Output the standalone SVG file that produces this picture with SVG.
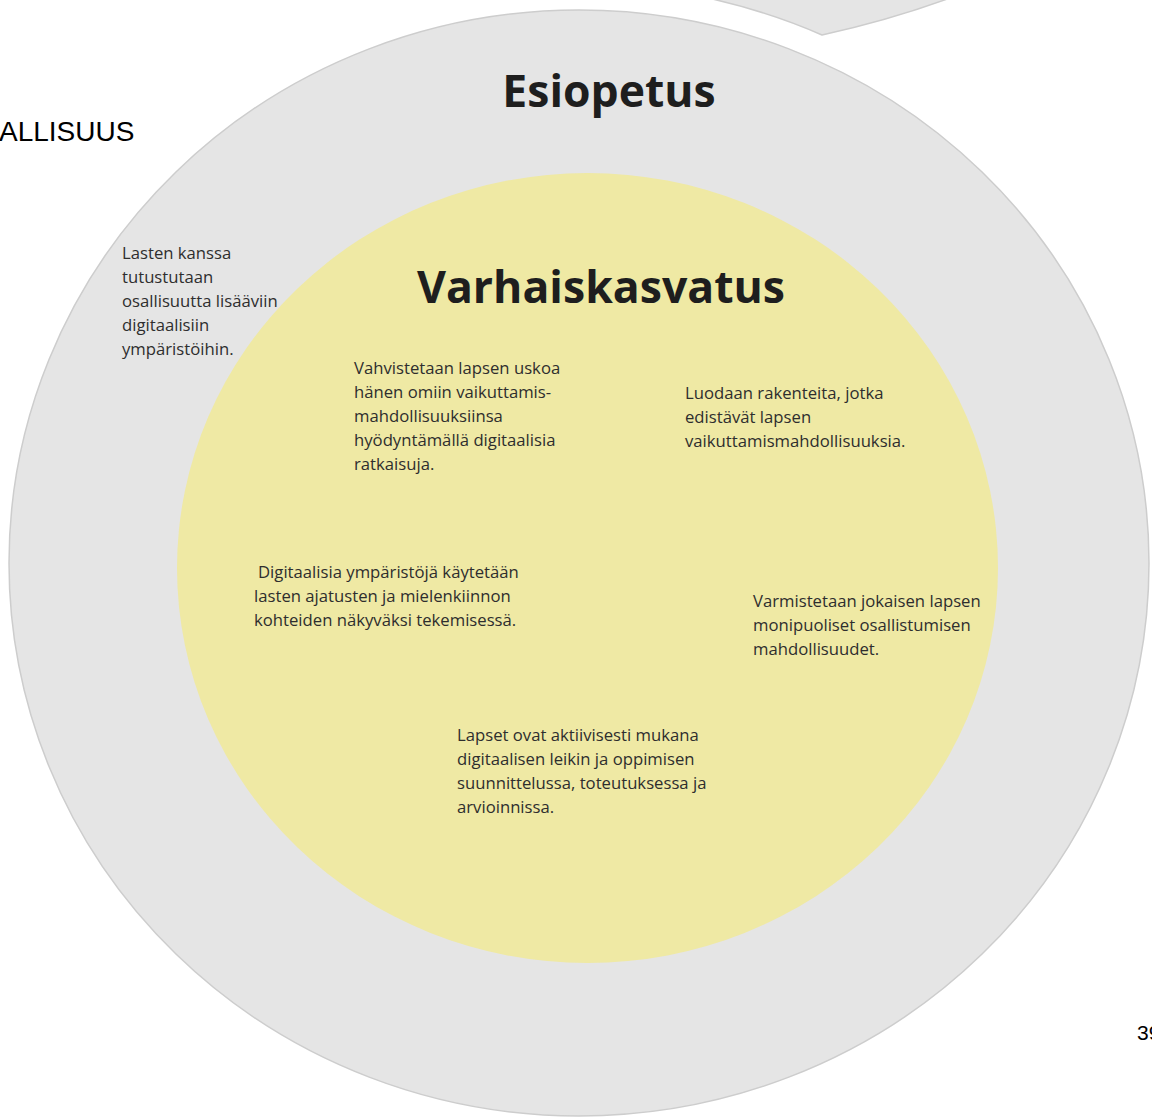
<svg xmlns="http://www.w3.org/2000/svg" width="1152" height="1117" viewBox="0 0 1152 1117">
<style>
.bg{fill:#ffffff}
.ring{fill:#e5e5e5;stroke:#cdcdcd;stroke-width:1.5}
.core{fill:#efe9a4}
.title{font-family:"Open Sans","DejaVu Sans",sans-serif;font-weight:bold;fill:#1e1e1e}
.body{font-family:"Open Sans","DejaVu Sans",sans-serif;font-size:16.7px;fill:#2e2e2e}
.page{font-family:"Liberation Sans",Arial,sans-serif;fill:#000000}
</style>
<rect class="bg" x="0" y="0" width="1152" height="1117"/>
<g id="top-shape">
<path class="ring" d="M 708 -2 Q 770 12 822 35 Q 890 20 950 -2 Z"/>
</g>
<g id="esiopetus">
<ellipse class="ring" cx="579" cy="563" rx="570" ry="553"/>
<text class="title" x="609" y="107" font-size="44.5" text-anchor="middle">Esiopetus</text>
<text class="body" x="122" y="259">Lasten kanssa</text>
<text class="body" x="122" y="283">tutustutaan</text>
<text class="body" x="122" y="307">osallisuutta lisääviin</text>
<text class="body" x="122" y="331">digitaalisiin</text>
<text class="body" x="122" y="355">ympäristöihin.</text>
</g>
<g id="varhaiskasvatus">
<ellipse class="core" cx="587.5" cy="568" rx="410.5" ry="395"/>
<text class="title" x="601" y="303" font-size="44.6" text-anchor="middle">Varhaiskasvatus</text>
<text class="body" x="354" y="374">Vahvistetaan lapsen uskoa</text>
<text class="body" x="354" y="398">hänen omiin vaikuttamis-</text>
<text class="body" x="354" y="422">mahdollisuuksiinsa</text>
<text class="body" x="354" y="446">hyödyntämällä digitaalisia</text>
<text class="body" x="354" y="470">ratkaisuja.</text>
<text class="body" x="685" y="399">Luodaan rakenteita, jotka</text>
<text class="body" x="685" y="423">edistävät lapsen</text>
<text class="body" x="685" y="447">vaikuttamismahdollisuuksia.</text>
<text class="body" x="258" y="578">Digitaalisia ympäristöjä käytetään</text>
<text class="body" x="254" y="602">lasten ajatusten ja mielenkiinnon</text>
<text class="body" x="254" y="626">kohteiden näkyväksi tekemisessä.</text>
<text class="body" x="753" y="607">Varmistetaan jokaisen lapsen</text>
<text class="body" x="753" y="631">monipuoliset osallistumisen</text>
<text class="body" x="753" y="655">mahdollisuudet.</text>
<text class="body" x="457" y="741">Lapset ovat aktiivisesti mukana</text>
<text class="body" x="457" y="765">digitaalisen leikin ja oppimisen</text>
<text class="body" x="457" y="789">suunnittelussa, toteutuksessa ja</text>
<text class="body" x="457" y="813">arvioinnissa.</text>
</g>
<text class="page" x="-1" y="141" font-size="28">ALLISUUS</text>
<text class="page" x="1137" y="1040" font-size="21">39</text>
</svg>
